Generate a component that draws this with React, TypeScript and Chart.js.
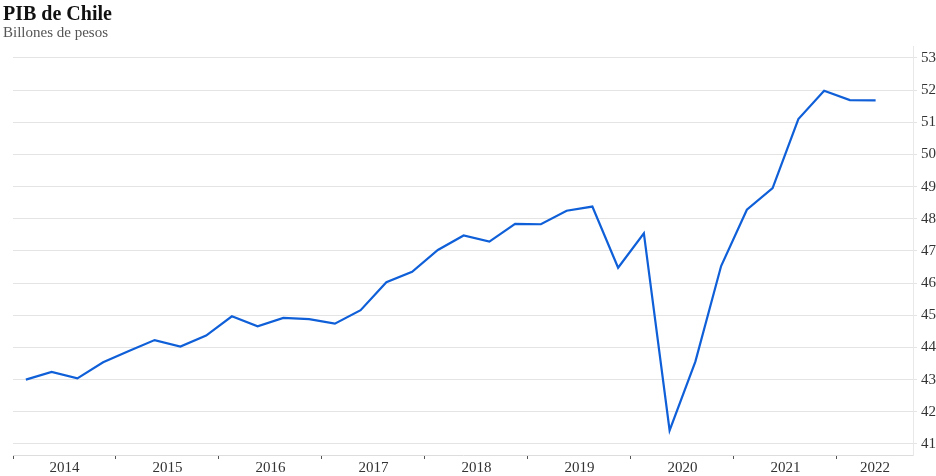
import React, { useEffect, useRef } from "react";
import { Chart, registerables } from "chart.js";

Chart.register(...registerables);

const TITLE = "PIB de Chile";
const SUBTITLE = "Billones de pesos";

const YEARS = [2014, 2015, 2016, 2017, 2018, 2019, 2020, 2021, 2022];
const QUARTERS = [1, 2, 3, 4];

// Quarterly GDP, billions of pesos (2014 Q1 .. 2022 Q2)
const VALUES_2014 = [43.0, 43.24, 43.04, 43.54];
const VALUES_2015 = [43.89, 44.23, 44.03, 44.37];
const VALUES_2016 = [44.97, 44.66, 44.92, 44.88];
const VALUES_2017 = [44.74, 45.16, 46.03, 46.35];
const VALUES_2018 = [47.03, 47.48, 47.29, 47.84];
const VALUES_2019 = [47.83, 48.25, 48.38, 46.48];
const VALUES_2020 = [47.55, 41.42, 43.56, 46.53];
const VALUES_2021 = [48.28, 48.95, 51.1, 51.98];
const VALUES_2022 = [51.69, 51.68];

const VALUES_BY_YEAR = [
  VALUES_2014,
  VALUES_2015,
  VALUES_2016,
  VALUES_2017,
  VALUES_2018,
  VALUES_2019,
  VALUES_2020,
  VALUES_2021,
  VALUES_2022,
];

const Y_TICKS = [41, 42, 43, 44, 45, 46, 47, 48, 49, 50, 51, 52, 53];

const X_MIN = 2014;
const X_MAX = 2022.738;

const FONT = "'Liberation Serif', 'Times New Roman', serif";

export default function App() {
  const canvasRef = useRef<HTMLCanvasElement | null>(null);

  useEffect(() => {
    document.body.style.margin = "0";
    const canvas = canvasRef.current;
    if (!canvas) return;

    const points: { x: number; y: number }[] = [];
    YEARS.forEach((yr, i) => {
      VALUES_BY_YEAR[i].forEach((v, qi) => {
        points.push({ x: yr + (QUARTERS[qi] - 0.5) / 4, y: v });
      });
    });

    // tick positions: year boundaries (marks) and year centres (labels)
    const xTickValues: number[] = [];
    YEARS.forEach((yr) => {
      xTickValues.push(yr);
      const end = Math.min(yr + 1, X_MAX);
      xTickValues.push((yr + end) / 2);
    });

    const chart = new Chart(canvas, {
      type: "line",
      data: {
        datasets: [
          {
            data: points,
            borderColor: "#0f5fd8",
            borderWidth: 2.2,
            pointRadius: 0,
            tension: 0,
            fill: false,
          },
        ],
      },
      options: {
        animation: false,
        responsive: false,
        maintainAspectRatio: false,
        layout: { padding: { top: 46, left: 13, right: 0, bottom: 0 } },
        plugins: {
          legend: { display: false },
          tooltip: { enabled: false },
          title: { display: false },
        },
        scales: {
          x: {
            type: "linear",
            min: X_MIN,
            max: X_MAX,
            afterBuildTicks: (scale: any) => {
              scale.ticks = xTickValues.map((v) => ({ value: v }));
            },
            afterFit: (scale: any) => {
              scale.height = 21;
            },
            grid: {
              drawOnChartArea: false,
              drawTicks: true,
              tickLength: 4,
              tickWidth: 1,
              tickColor: (ctx: any) =>
                ctx.tick && Number.isInteger(ctx.tick.value) ? "#555555" : "rgba(0,0,0,0)",
            },
            border: { display: true, color: "#dddddd", dash: [2, 2], width: 1 },
            ticks: {
              autoSkip: false,
              maxRotation: 0,
              minRotation: 0,
              padding: 0,
              color: "#333333",
              font: { family: FONT, size: 15 },
              callback: (value: any) =>
                Number.isInteger(Number(value)) ? "" : String(Math.floor(Number(value))),
            },
          },
          y: {
            type: "linear",
            position: "right",
            min: 40.658,
            max: 53.37,
            afterBuildTicks: (scale: any) => {
              scale.ticks = Y_TICKS.map((v) => ({ value: v }));
            },
            afterFit: (scale: any) => {
              scale.width = 23;
            },
            grid: {
              color: "#e4e4e4",
              lineWidth: 1,
              drawTicks: true,
              tickLength: 4,
            },
            border: { display: true, color: "#e8e8e8", width: 1 },
            ticks: {
              padding: 4,
              color: "#333333",
              font: { family: FONT, size: 15 },
              callback: (value: any) => String(value),
            },
          },
        },
      },
    });

    return () => {
      chart.destroy();
    };
  }, []);

  return (
    <div style={{ position: "relative", width: 936, height: 476, background: "#ffffff" }}>
      <canvas ref={canvasRef} width={936} height={476} style={{ display: "block" }} />
      <div
        style={{
          position: "absolute",
          left: 3,
          top: 2.5,
          fontFamily: FONT,
          fontWeight: "bold",
          fontSize: 20,
          lineHeight: "20px",
          color: "#111111",
          whiteSpace: "nowrap",
        }}
      >
        {TITLE}
      </div>
      <div
        style={{
          position: "absolute",
          left: 3,
          top: 25,
          fontFamily: FONT,
          fontSize: 15,
          lineHeight: "15px",
          color: "#555555",
          whiteSpace: "nowrap",
        }}
      >
        {SUBTITLE}
      </div>
    </div>
  );
}
